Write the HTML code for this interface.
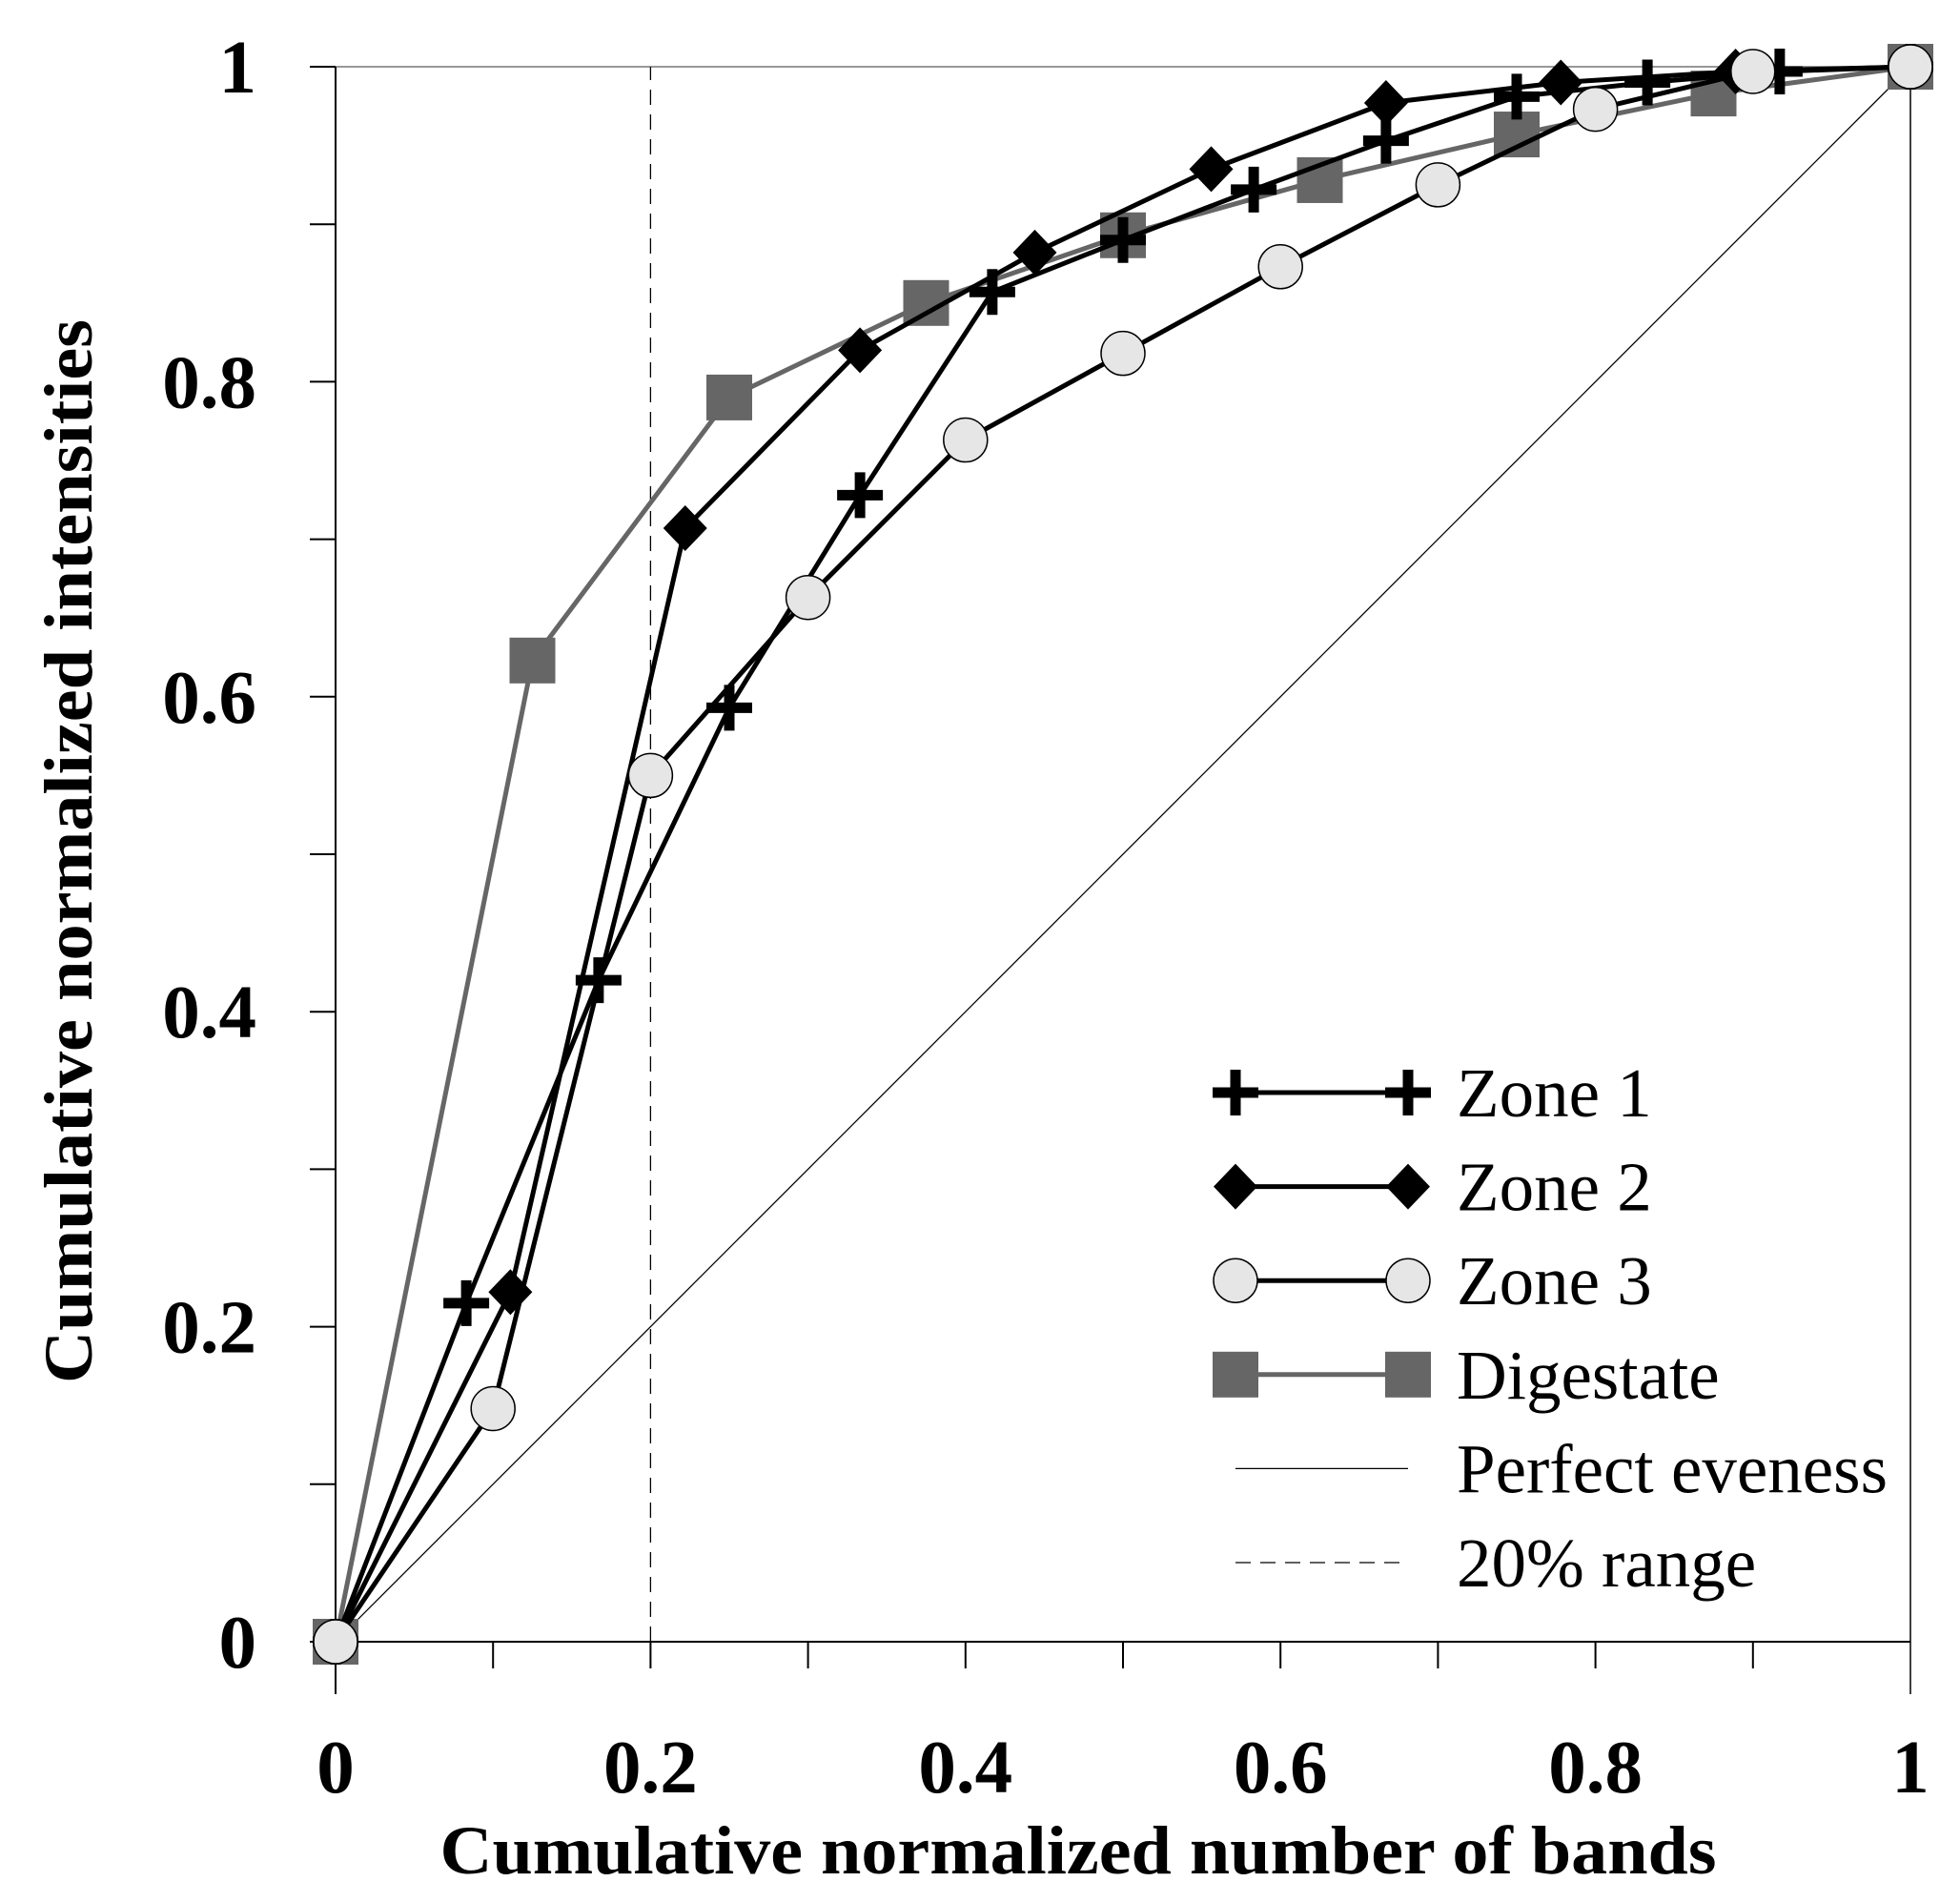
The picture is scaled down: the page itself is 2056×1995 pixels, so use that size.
<!DOCTYPE html>
<html><head><meta charset="utf-8"><style>
html,body{margin:0;padding:0;background:#fff}
svg{display:block}
text{font-family:"Liberation Serif",serif}
</style></head><body>
<svg id="chart" width="2056" height="1995" viewBox="0 0 2056 1995" xmlns="http://www.w3.org/2000/svg">
<g id="axes"></g>
<g id="series"></g>
<g id="legend"></g>
<text x="1131" y="1965" text-anchor="middle" font-size="72" font-weight="bold" textLength="1339" lengthAdjust="spacingAndGlyphs">Cumulative normalized number of bands</text>
<text transform="translate(96,893) rotate(-90)" text-anchor="middle" font-size="72" font-weight="bold" textLength="1116" lengthAdjust="spacingAndGlyphs">Cumulative normalized intensities</text>
</svg>
<script>
const zone1X=[0,0.083,0.167,0.25,0.333,0.417,0.5,0.583,0.667,0.75,0.833,0.917,1];
const zone1Y=[0,0.215,0.42,0.593,0.728,0.857,0.89,0.922,0.953,0.981,0.99,0.997,1];
const zone2X=[0,0.111,0.222,0.333,0.444,0.556,0.667,0.778,0.889,1];
const zone2Y=[0,0.222,0.707,0.82,0.882,0.935,0.977,0.99,0.997,1];
const zone3X=[0,0.1,0.2,0.3,0.4,0.5,0.6,0.7,0.8,0.9,1];
const zone3Y=[0,0.148,0.55,0.663,0.763,0.818,0.873,0.925,0.973,0.997,1];
const digX=[0,0.125,0.25,0.375,0.5,0.625,0.75,0.875,1];
const digY=[0,0.623,0.79,0.85,0.893,0.928,0.957,0.983,1];
const xTickLabels=["0","0.2","0.4","0.6","0.8","1"];
const yTickLabels=["0","0.2","0.4","0.6","0.8","1"];
const rangeX=0.2;

const X0=352,X1=2004,Y0=1722,Y1=70;
const sx=v=>X0+v*(X1-X0);
const sy=v=>Y0-v*(Y0-Y1);
const NS="http://www.w3.org/2000/svg";
function mk(tag,attrs,parent){const e=document.createElementNS(NS,tag);for(const k in attrs)e.setAttribute(k,attrs[k]);parent.appendChild(e);return e;}
const axes=document.getElementById('axes');
const series=document.getElementById('series');
const legend=document.getElementById('legend');

let el;
el=mk('line',{x1:X0,y1:Y1,x2:X1,y2:Y1,stroke:'#777','stroke-width':1.5},axes);


el=mk('line',{x1:X1,y1:Y1,x2:X1,y2:Y0+55,stroke:'#000','stroke-width':1.5},axes);


el=mk('line',{x1:X0,y1:Y1,x2:X0,y2:Y0+55,stroke:'#000','stroke-width':2},axes);


el=mk('line',{x1:X0-27,y1:Y0,x2:X1,y2:Y0,stroke:'#000','stroke-width':2},axes);


for(let i=1;i<10;i++){
  el=mk('line',{x1:sx(i/10),y1:Y0,x2:sx(i/10),y2:Y0+28,stroke:'#000','stroke-width':2},axes);
  
  
  el=mk('line',{x1:X0-27,y1:sy(i/10),x2:X0,y2:sy(i/10),stroke:'#000','stroke-width':2},axes);
  
  
}
el=mk('line',{x1:X0-27,y1:Y1,x2:X0,y2:Y1,stroke:'#000','stroke-width':2},axes);


xTickLabels.forEach(t=>{
  el=mk('text',{x:sx(parseFloat(t)),y:1880,'text-anchor':'middle','font-size':79,'font-weight':'bold'},axes);
  el.textContent=t;
  
  
});
yTickLabels.forEach(t=>{
  el=mk('text',{x:269,y:sy(parseFloat(t))+27,'text-anchor':'end','font-size':79,'font-weight':'bold'},axes);
  el.textContent=t;
  
  
});
el=mk('line',{x1:sx(0),y1:sy(0),x2:sx(1),y2:sy(1),stroke:'#000','stroke-width':1.3},series);


el=mk('line',{x1:sx(rangeX),y1:Y0,x2:sx(rangeX),y2:Y1,stroke:'#000','stroke-width':1.3,'stroke-dasharray':'16 10'},series);



function marker(type,cx,cy,g){
  let m;
  if(type==='plus'){
    m=mk('path',{d:`M${cx-24},${cy}H${cx+24}M${cx},${cy-24}V${cy+24}`,stroke:'#000','stroke-width':11,fill:'none'},g);
  }else if(type==='diamond'){
    m=mk('path',{d:`M${cx},${cy-24}L${cx+23},${cy}L${cx},${cy+24}L${cx-23},${cy}Z`,fill:'#000'},g);
  }else if(type==='circle'){
    m=mk('circle',{cx:cx,cy:cy,r:23,fill:'#e6e6e6',stroke:'#000','stroke-width':1.5},g);
  }else{
    m=mk('rect',{x:cx-24,y:cy-24,width:48,height:48,fill:'#666'},g);
  }
  return m;
}
function drawSeries(name,xs,ys,type,color){
  const g=mk('g',{},series);
  
  
  const p=mk('polyline',{points:xs.map((x,i)=>sx(x)+','+sy(ys[i])).join(' '),fill:'none',stroke:color,'stroke-width':5,'stroke-linejoin':'round'},g);
  
  
  xs.forEach((x,i)=>{
    const m=marker(type,sx(x),sy(ys[i]),g);
    
    
  });
}
drawSeries('digestate',digX,digY,'square','#666');
drawSeries('zone-2',zone2X,zone2Y,'diamond','#000');
drawSeries('zone-1',zone1X,zone1Y,'plus','#000');
drawSeries('zone-3',zone3X,zone3Y,'circle','#000');

const rows=[["Zone 1",'plus','#000',5,null],["Zone 2",'diamond','#000',5,null],["Zone 3",'circle','#000',5,null],["Digestate",'square','#666',5,null],["Perfect eveness",null,'#000',1.3,null],["20% range",null,'#000',1.3,'16 10']];
const LX0=1296,LX1=1477;
rows.forEach((r,i)=>{
  const y=1146+i*98.6;
  const g=mk('g',{},legend);
  
  
  const a={x1:LX0,y1:y,x2:LX1,y2:y,stroke:r[2],'stroke-width':r[3]};
  if(r[4])a['stroke-dasharray']=r[4];
  el=mk('line',a,g);
  
  
  if(r[1]){
    el=marker(r[1],LX0,y,g);
    
    
    el=marker(r[1],LX1,y,g);
    
    
  }
  el=mk('text',{x:1528,y:y+25,'font-size':73},g);
  el.textContent=r[0];
  
  
});
</script>
</body></html>
